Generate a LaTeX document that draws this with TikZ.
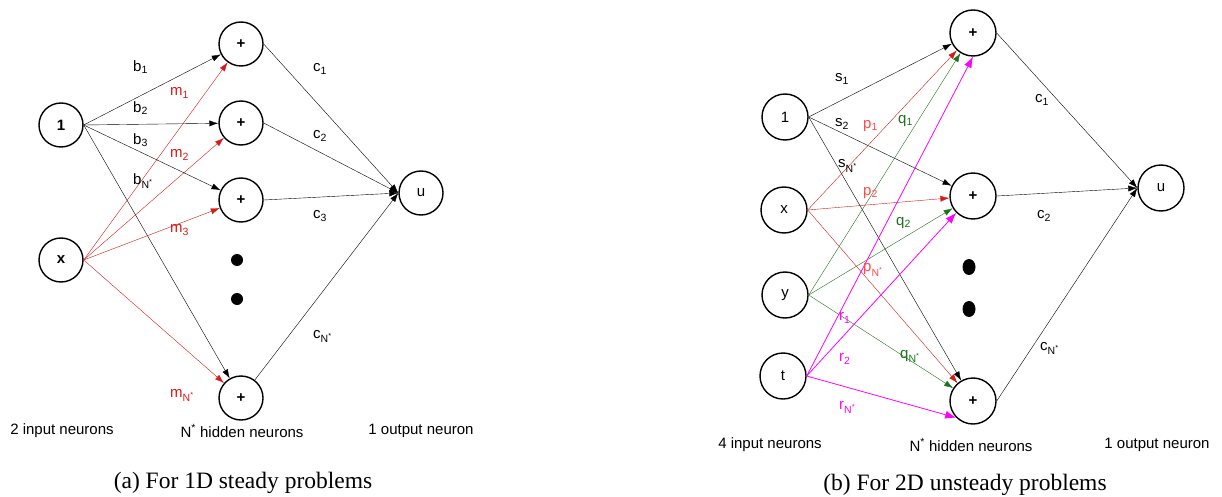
\documentclass[tikz,border=0pt]{standalone}
\usepackage{fontspec}
\setmainfont{Liberation Serif}
\setsansfont{Liberation Sans}
\usetikzlibrary{arrows.meta}

\begin{document}
\begin{tikzpicture}
		[x=1pt,y=-1pt,line cap=round,
		%Styles
		neuron/.style={circle,draw,line width=1.4pt,minimum size=44pt,inner sep=0pt,font=\sffamily\fontsize{15}{15}\selectfont},
		big neuron/.style={neuron,minimum size=46pt},
		link/.style={-{Latex[length=9pt,width=6pt]},thin},
		wide link/.style={-{Latex[length=11pt,width=8pt]},thick},
		weight text/.style={anchor=west,inner sep=0pt,font=\sffamily\fontsize{15}{15}\selectfont},
		layer text/.style={font=\sffamily\fontsize{15}{15}\selectfont},
		caption text/.style={font=\fontsize{23.5}{24}\selectfont}
		]
		
		%Colors
		\definecolor{mcolor}{RGB}{215,25,25}	%red links
		\definecolor{pcolor}{RGB}{255,75,75}	%p labels
		\definecolor{qcolor}{RGB}{30,115,30}	%q links
		\definecolor{rcolor}{RGB}{255,0,255}	%r links
		
		\useasboundingbox (0,0) rectangle (1222,497);
		
		%The graphic (a)
		\node[neuron,font=\sffamily\bfseries\fontsize{15}{15}\selectfont] (a one) at (61,125) {1};
		\node[neuron,font=\sffamily\bfseries\fontsize{15}{15}\selectfont] (a x) at (61,260) {x};
		\foreach \i/\y in {1/44,2/123,3/200,4/398}
			\node[neuron] (a h\i) at (241,\y) {\textbf{+}};
		\node[neuron] (a u) at (421,193) {u};
		\fill (237,260) circle (6) (237,299) circle (6);
		
		\foreach \i in {1,...,4}{
			\draw[link] (a one.east) -- (a h\i);
			\draw[link,mcolor] (a x.east) -- (a h\i);
		}
		\foreach \s in {a h1.east,a h2.east,a h3.east,a h4}
			\draw[link] (\s) -- (a u.west);
		
		\foreach \t/\y in {1/67,2/108,3/140,N\textsuperscript{*}/181}
			\node[weight text] at (133,\y) {b\textsubscript{\t}};
		\foreach \t/\y in {1/93,2/155,3/230,N\textsuperscript{*}/395}
			\node[weight text,mcolor] at (170,\y) {m\textsubscript{\t}};
		\foreach \t/\y in {1/69,2/136,3/216,N\textsuperscript{*}/336}
			\node[weight text] at (313,\y) {c\textsubscript{\t}};
		
		\node[layer text] (a input) at (62,431) {2 input neurons};
		\node[layer text] (a hidden) at (242,431) {N\textsuperscript{*} hidden neurons};
		\node[layer text] (a output) at (421,431) {1 output neuron};
		\node[caption text] (a caption) at (243,483) {(a) For 1D steady problems};
		
		%The graphic (b)
		\foreach \n/\t/\x/\y in {one/1/785/117,x/x/784/210,y/y/785/295,t/t/783/376}
			\node[big neuron] (b \n) at (\x,\y) {\t};
		\foreach \i/\y in {1/33,2/196,3/401}
			\node[big neuron] (b h\i) at (973,\y) {\textbf{+}};
		\node[big neuron] (b u) at (1161,188) {u};
		\fill (969,267) ellipse (6.5 and 8) (969,309) ellipse (6.5 and 8);
		
		\foreach \i in {1,2,3}{
			\draw[link] (b one.east) -- (b h\i);
			\draw[link,mcolor] (b x.east) -- (b h\i);
			\draw[link,qcolor] (b y.east) -- (b h\i);
			\draw[link] (b h\i.east) -- (b u.west);
		}
		\draw[wide link,rcolor] (b t.east) -- (b h1.south);
		\draw[wide link,rcolor] (b t.east) -- (b h2.south west);
		\draw[wide link,rcolor] (b t.east) -- (b h3.south west);
		
		\foreach \t/\x/\y in {1/835/79,2/835/124,N\textsuperscript{*}/838/166}
			\node[weight text] at (\x,\y) {s\textsubscript{\t}};
		\foreach \t/\x/\y in {1/863/126,2/863/193,N\textsuperscript{*}/863/270}
			\node[weight text,pcolor] at (\x,\y) {p\textsubscript{\t}};
		\foreach \t/\x/\y in {1/898/121,2/896/223,N\textsuperscript{*}/900/356}
			\node[weight text,qcolor] at (\x,\y) {q\textsubscript{\t}};
		\foreach \t/\x/\y in {1/839/318,2/839/359,N\textsuperscript{*}/839/407}
			\node[weight text,rcolor] at (\x,\y) {r\textsubscript{\t}};
		\foreach \t/\x/\y in {1/1035/100,2/1037/216,N\textsuperscript{*}/1040/348}
			\node[weight text] at (\x,\y) {c\textsubscript{\t}};
		
		\node[layer text] (b input) at (770,445) {4 input neurons};
		\node[layer text] (b hidden) at (971,445) {N\textsuperscript{*} hidden neurons};
		\node[layer text] (b output) at (1157,445) {1 output neuron};
		\node[caption text] (b caption) at (965,485) {(b) For 2D unsteady problems};
	\end{tikzpicture}
\end{document}
